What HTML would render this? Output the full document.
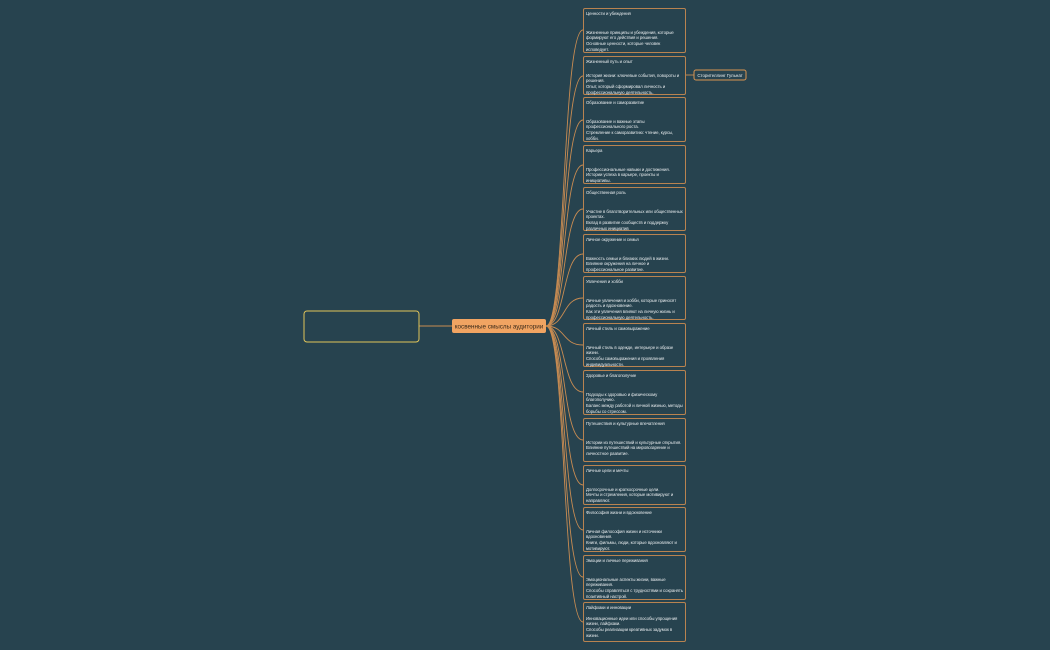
<!DOCTYPE html>
<html><head><meta charset="utf-8"><style>
body{margin:0;width:1050px;height:650px;background:#27434f;position:relative;overflow:hidden;font-family:"Liberation Sans",sans-serif}
.b{position:absolute;left:583px;width:103px;border:1px solid #b98350;border-radius:2px;color:#e8ecee;font-size:4.3px;line-height:5.7px;box-sizing:border-box;padding:2px 2px;letter-spacing:-0.05px}
.b .t{margin-bottom:13px}
svg{position:absolute;left:0;top:0}
</style></head><body>
<svg width="1050" height="650">
<g fill="none" stroke="#c98c52" stroke-width="0.9">
<line x1="419" y1="326" x2="452" y2="326"/>
<line x1="686" y1="75" x2="694" y2="75"/>
<path d="M546 326 C566 326 562 30 583 30"/>
<path d="M546 326 C566 326 562 76 583 76"/>
<path d="M546 326 C566 326 562 120 583 120"/>
<path d="M546 326 C566 326 562 165 583 165"/>
<path d="M546 326 C566 326 562 209 583 209"/>
<path d="M546 326 C566 326 562 254 583 254"/>
<path d="M546 326 C566 326 562 298 583 298"/>
<path d="M546 326 C566 326 562 345 583 345"/>
<path d="M546 326 C566 326 562 392 583 392"/>
<path d="M546 326 C566 326 562 440 583 440"/>
<path d="M546 326 C566 326 562 485 583 485"/>
<path d="M546 326 C566 326 562 530 583 530"/>
<path d="M546 326 C566 326 562 577 583 577"/>
<path d="M546 326 C566 326 562 622 583 622"/>
</g>
<rect x="304" y="311" width="115" height="31" rx="3" fill="none" stroke="#e2c55a" stroke-width="1"/>
<rect x="452" y="319" width="94" height="14" rx="2" fill="#f1a462"/>
<text x="499" y="328.5" font-size="6.3" fill="#3a2a1a" text-anchor="middle" font-family="Liberation Sans,sans-serif">косвенные смыслы аудитории</text>
<rect x="694" y="70" width="52" height="10" rx="2" fill="#27434f" stroke="#d99552"/>
<text x="720" y="77" font-size="4.4" fill="#e8ecee" text-anchor="middle" font-family="Liberation Sans,sans-serif">Сторителлинг Гульнат</text>
</svg>
<div class="b" style="top:8px;height:45px"><div class="t">Ценности и убеждения</div>Жизненные принципы и убеждения, которые формируют его действия и решения.<br>Основные ценности, которые человек исповедует.</div>
<div class="b" style="top:56px;height:39px"><div class="t" style="margin-bottom:8px">Жизненный путь и опыт</div>История жизни: ключевые события, повороты и решения.<br>Опыт, который сформировал личность и профессиональную деятельность.</div>
<div class="b" style="top:97px;height:45px"><div class="t">Образование и саморазвитие</div>Образование и важные этапы профессионального роста.<br>Стремление к саморазвитию: чтение, курсы, хобби.</div>
<div class="b" style="top:145px;height:39px"><div class="t">Карьера</div>Профессиональные навыки и достижения.<br>Истории успеха в карьере, проекты и инициативы.</div>
<div class="b" style="top:187px;height:44px"><div class="t">Общественная роль</div>Участие в благотворительных или общественных проектах.<br>Вклад в развитие сообществ и поддержку различных инициатив</div>
<div class="b" style="top:234px;height:39px"><div class="t">Личное окружение и семья</div>Важность семьи и близких людей в жизни.<br>Влияние окружения на личное и профессиональное развитие.</div>
<div class="b" style="top:276px;height:44px"><div class="t">Увлечения и хобби</div>Личные увлечения и хобби, которые приносят радость и вдохновение.<br>Как эти увлечения влияют на личную жизнь и профессиональную деятельность.</div>
<div class="b" style="top:323px;height:44px"><div class="t">Личный стиль и самовыражение</div>Личный стиль в одежде, интерьере и образе жизни.<br>Способы самовыражения и проявления индивидуальности.</div>
<div class="b" style="top:370px;height:45px"><div class="t">Здоровье и благополучие</div>Подходы к здоровью и физическому благополучию.<br>Баланс между работой и личной жизнью, методы борьбы со стрессом.</div>
<div class="b" style="top:418px;height:44px"><div class="t">Путешествия и культурные впечатления</div>Истории из путешествий и культурные открытия.<br>Влияние путешествий на мировоззрение и личностное развитие.</div>
<div class="b" style="top:465px;height:40px"><div class="t">Личные цели и мечты</div>Долгосрочные и краткосрочные цели.<br>Мечты и стремления, которые мотивируют и направляют.</div>
<div class="b" style="top:507px;height:45px"><div class="t">Философия жизни и вдохновение</div>Личная философия жизни и источники вдохновения.<br>Книги, фильмы, люди, которые вдохновляют и мотивируют.</div>
<div class="b" style="top:555px;height:45px"><div class="t">Эмоции и личные переживания</div>Эмоциональные аспекты жизни, важные переживания.<br>Способы справляться с трудностями и сохранять позитивный настрой.</div>
<div class="b" style="top:602px;height:40px"><div class="t" style="margin-bottom:5px">Лайфхаки и инновации</div>Инновационные идеи или способы упрощения жизни, лайфхаки.<br>Способы реализации креативных задумок в жизни.</div>
</body></html>
